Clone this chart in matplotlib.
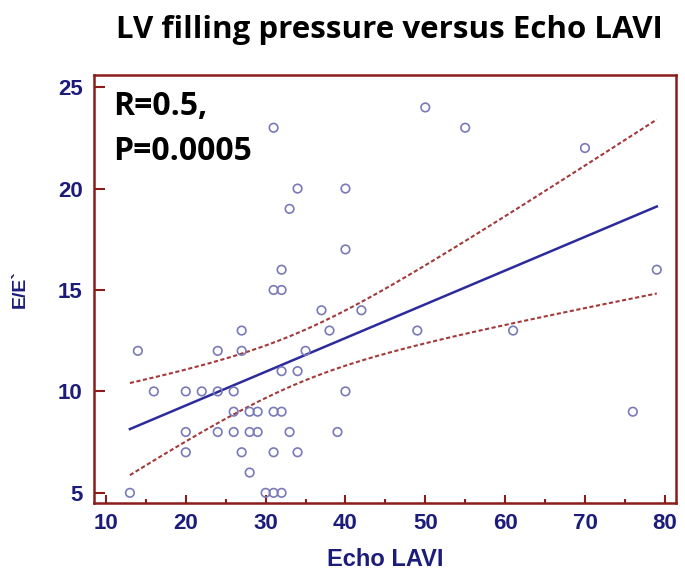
import numpy as np
import matplotlib
matplotlib.use("Agg")
import matplotlib.pyplot as plt
from matplotlib.ticker import MultipleLocator

# Echo LAVI (x) ve E/E' (y) degerleri
lavi = [31, 34, 40, 33, 40, 32, 31, 32, 37, 42, 27, 38, 14, 24, 27, 35, 32, 34,
        16, 20, 22, 24, 26, 40, 26, 28, 29, 31, 32, 20, 24, 26, 28, 29, 33, 39,
        20, 27, 31, 34, 28, 13, 30, 31, 32, 50, 55, 70, 79, 49, 61, 76]
e_e = [23, 20, 20, 19, 17, 16, 15, 15, 14, 14, 13, 13, 12, 12, 12, 12, 11, 11,
       10, 10, 10, 10, 10, 10, 9, 9, 9, 9, 9, 8, 8, 8, 8, 8, 8, 8,
       7, 7, 7, 7, 6, 5, 5, 5, 5, 24, 23, 22, 16, 13, 13, 9]

x_ticks = [10, 20, 30, 40, 50, 60, 70, 80]
y_ticks = [5, 10, 15, 20, 25]

frame_red = "#8b1c1c"
navy = "#1c1c7a"

x = np.array(lavi, dtype=float)
y = np.array(e_e, dtype=float)
n = len(x)
slope, intercept = np.polyfit(x, y, 1)
resid = y - (slope * x + intercept)
s = np.sqrt(np.sum(resid ** 2) / (n - 2))
sxx = np.sum((x - x.mean()) ** 2)
xs = np.linspace(x.min(), x.max(), 100)
fit = slope * xs + intercept
se = s * np.sqrt(1 / n + (xs - x.mean()) ** 2 / sxx)
t = 2.01

fig = plt.figure(figsize=(6.85, 5.79), dpi=100)
ax = fig.add_axes([0.1372, 0.1313, 0.8496, 0.7392])

ax.scatter(x, y, s=38, facecolors="none", edgecolors="#7a7ab8", linewidths=1.2, zorder=3)
ax.plot(xs, fit, color="#2b2b9c", linewidth=1.8, zorder=2)
ax.plot(xs, fit + t * se, color="#a33a3a", linewidth=1.5, dashes=(2, 1.2), zorder=2)
ax.plot(xs, fit - t * se, color="#a33a3a", linewidth=1.5, dashes=(2, 1.2), zorder=2)

ax.set_xlim(8.5, 81.4)
ax.set_ylim(4.5, 25.6)
ax.set_xticks(x_ticks)
ax.set_yticks(y_ticks)
ax.xaxis.set_minor_locator(MultipleLocator(5))

for sp in ax.spines.values():
    sp.set_color(frame_red)
    sp.set_linewidth(1.8)

ax.tick_params(axis="y", which="major", direction="in", length=8, width=1.5,
               color=frame_red, labelcolor=navy, labelsize=16, pad=8)
ax.tick_params(axis="x", which="major", direction="in", length=6, width=1.5,
               color=frame_red, labelcolor=navy, labelsize=16, pad=7)
ax.tick_params(axis="x", which="minor", direction="in", length=3, width=1.5, color=frame_red)
for lab in ax.get_xticklabels() + ax.get_yticklabels():
    lab.set_fontfamily("Liberation Sans")
    lab.set_fontweight("bold")

ax.set_xlabel("Echo LAVI", fontsize=17, fontweight="bold", color=navy,
              family="Liberation Sans", labelpad=10)
ax.set_ylabel("E/E`", fontsize=14, fontweight="bold", color=navy,
              family="Liberation Sans")
ax.yaxis.set_label_coords(-0.112, 0.5)

ax.text(0.033, 0.906, "R=0.5,", transform=ax.transAxes, ha="left", va="baseline",
        fontsize=23, fontweight="bold", family="Open Sans")
ax.text(0.033, 0.801, "P=0.0005", transform=ax.transAxes, ha="left", va="baseline",
        fontsize=23, fontweight="bold", family="Open Sans")

fig.text(0.568, 0.948, "LV filling pressure versus Echo LAVI", ha="center", va="center",
         fontsize=22.5, fontweight="bold", family="Open Sans")

plt.savefig("out.png", dpi=100)
